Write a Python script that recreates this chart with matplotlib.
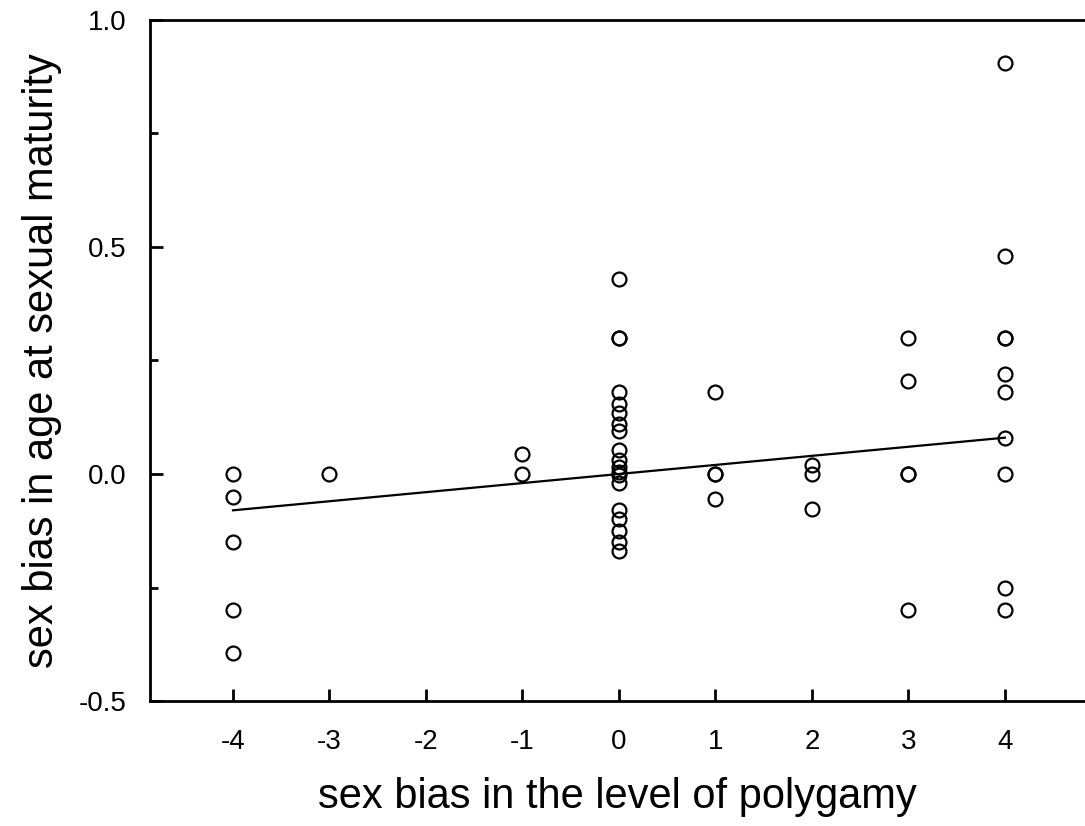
import matplotlib
matplotlib.use('Agg')
import matplotlib.pyplot as plt
import numpy as np

plt.rcParams['font.family'] = ['Liberation Sans', 'DejaVu Sans']
plt.rcParams['axes.unicode_minus'] = False

# polygamy bias (x) and age-at-maturity bias (y)
x_m4 = [-4] * 5
y_m4 = [0.0, -0.05, -0.15, -0.30, -0.395]
x_m3 = [-3]
y_m3 = [0.0]
x_m1 = [-1, -1]
y_m1 = [0.045, 0.0]
x_0 = [0] * 19
y_0 = [0.43, 0.30, 0.30, 0.18, 0.155, 0.135, 0.11, 0.095, 0.053, 0.03,
       0.015, 0.005, -0.003, -0.02, -0.08, -0.10, -0.125, -0.15, -0.17]
x_1 = [1, 1, 1, 1]
y_1 = [0.18, 0.0, 0.0, -0.055]
x_2 = [2, 2, 2]
y_2 = [0.02, 0.0, -0.078]
x_3 = [3, 3, 3, 3, 3]
y_3 = [0.30, 0.205, 0.0, 0.0, -0.30]
x_4 = [4] * 10
y_4 = [0.905, 0.48, 0.30, 0.30, 0.22, 0.18, 0.08, 0.0, -0.25, -0.30]

xs = x_m4 + x_m3 + x_m1 + x_0 + x_1 + x_2 + x_3 + x_4
ys = y_m4 + y_m3 + y_m1 + y_0 + y_1 + y_2 + y_3 + y_4

# regression line as drawn
fit_x = [-4, 4]
fit_intercept = 0.0
fit_slope = 0.02

fig = plt.figure(figsize=(10.85, 8.26), dpi=100)
ax = fig.add_axes([150 / 1085, 1 - 701 / 826, 1 - 150 / 1085, 681 / 826])

ax.plot(xs, ys, 'o', mfc='none', mec='black', ms=10, mew=1.6, clip_on=False)
fx = np.array(fit_x)
ax.plot(fx, fit_intercept + fit_slope * fx, color='black', lw=1.6)

ax.set_xlim(-4.86, 4.83)
ax.set_ylim(-0.5, 1.0)
ax.set_xticks(range(-4, 5))
ax.set_yticks([-0.5, 0.0, 0.5, 1.0])
ax.set_yticklabels(['-0.5', '0.0', '0.5', '1.0'])
ax.set_yticks([-0.25, 0.25, 0.75], minor=True)

ax.spines['right'].set_visible(False)
for s in ['left', 'top', 'bottom']:
    ax.spines[s].set_linewidth(2)
ax.tick_params(axis='both', which='major', direction='in', length=9, width=2,
               labelsize=20)
ax.tick_params(axis='y', which='minor', direction='in', length=6, width=2)
ax.tick_params(axis='x', pad=20)
ax.tick_params(axis='y', pad=17)

ax.set_xlabel('sex bias in the level of polygamy', fontsize=30, labelpad=16)
ax.set_ylabel('sex bias in age at sexual maturity', fontsize=30, labelpad=12)

plt.savefig('out.png', dpi=100)
plt.close()
